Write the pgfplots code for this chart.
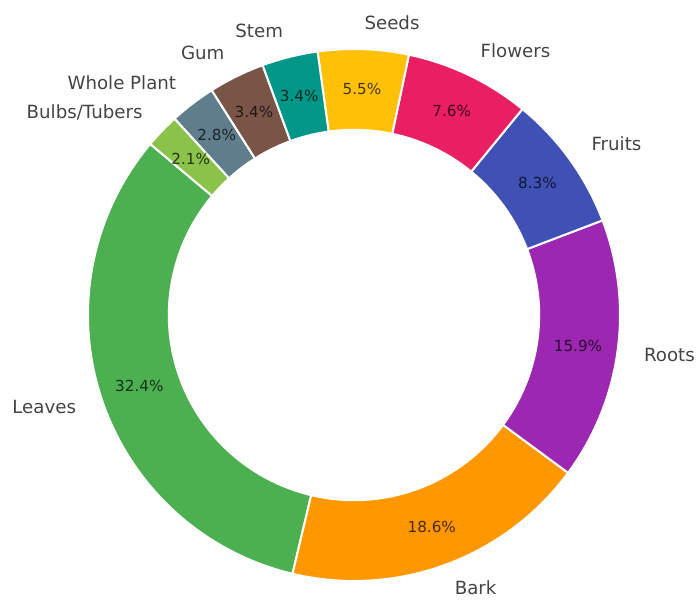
\documentclass[border=0pt]{standalone}
\usepackage{fontspec}
\setmainfont{DejaVu Sans}
\usepackage{pgfplots}
\pgfplotsset{compat=1.18}
\definecolor{cLeaves}{HTML}{4CAF50}
\definecolor{cBark}{HTML}{FF9800}
\definecolor{cRoots}{HTML}{9C27B0}
\definecolor{cFruits}{HTML}{3F51B5}
\definecolor{cFlowers}{HTML}{E91E63}
\definecolor{cSeeds}{HTML}{FFC107}
\definecolor{cStem}{HTML}{009688}
\definecolor{cGum}{HTML}{795548}
\definecolor{cWhole}{HTML}{607D8B}
\definecolor{cBulbs}{HTML}{8BC34A}
\definecolor{lab}{HTML}{444444}
% slice, percent, start angle, end angle (start at 140 deg, counterclockwise)
% Leaves 32.4 | Bark 18.6 | Roots 15.9 | Fruits 8.3 | Flowers 7.6 | Seeds 5.5 | Stem 3.4 | Gum 3.4 | Whole Plant 2.8 | Bulbs/Tubers 2.1
\newcommand{\slice}[3]{\addplot[fill=#1, draw=white, line width=2pt, domain=#2:#3, samples=90, variable=\t] ({cos(t)},{sin(t)}) -- (0,0) -- cycle;}
\newcommand{\lbl}[5][]{\node[anchor=#4, inner sep=0pt, text=lab, font=\fontsize{18.2}{21}\selectfont, #1] at (axis cs:{1.1*cos(#3)},{1.1*sin(#3)}) {#2};
\node[inner sep=0pt, text=black, text opacity=0.72, font=\fontsize{15.2}{18}\selectfont] at (axis cs:{0.85*cos(#3)},{0.85*sin(#3)}) {#5\%};}
\begin{document}
\begin{tikzpicture}
\begin{axis}[
  scale only axis, width=700pt, height=599pt,
  xmin=-1.3308, xmax=1.3008, ymin=-1.0677, ymax=1.1842,
  hide axis, clip=false]
\slice{cLeaves}{140}{256.64}
\slice{cBark}{256.64}{323.60}
\slice{cRoots}{323.60}{380.84}
\slice{cFruits}{380.84}{410.72}
\slice{cFlowers}{410.72}{438.08}
\slice{cSeeds}{438.08}{457.88}
\slice{cStem}{457.88}{470.12}
\slice{cGum}{470.12}{482.36}
\slice{cWhole}{482.36}{492.44}
\slice{cBulbs}{492.44}{500.00}
\addplot[fill=white, draw=none, domain=0:360, samples=180, variable=\t] ({0.7*cos(t)},{0.7*sin(t)}) -- cycle;
\lbl{Leaves}{198.32}{east}{32.4}
\lbl[yshift=2pt]{Bark}{290.12}{west}{18.6}
\lbl{Roots}{352.22}{west}{15.9}
\lbl{Fruits}{35.78}{west}{8.3}
\lbl{Flowers}{64.40}{west}{7.6}
\lbl{Seeds}{87.98}{west}{5.5}
\lbl{Stem}{104.00}{east}{3.4}
\lbl{Gum}{116.24}{east}{3.4}
\lbl{Whole Plant}{127.40}{east}{2.8}
\lbl{Bulbs/Tubers}{136.22}{east}{2.1}
\end{axis}
\pgfresetboundingbox
\useasboundingbox (current axis.south west) rectangle (current axis.north east);
\end{tikzpicture}
\end{document}
